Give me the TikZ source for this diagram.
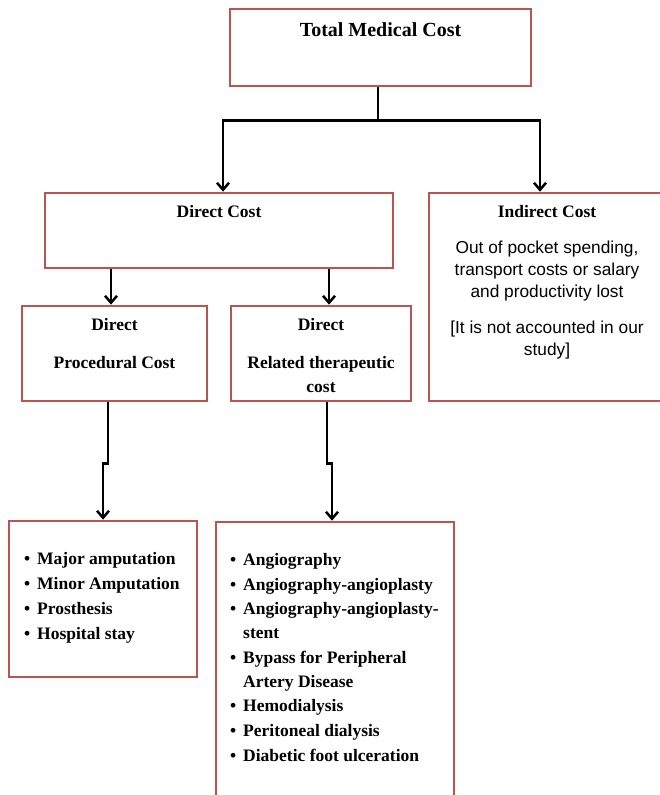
\documentclass[tikz,border=0pt]{standalone}
\usepackage{fontspec}
\setmainfont{Liberation Serif}
\newfontfamily\sansf{Liberation Sans}
\usetikzlibrary{arrows.meta}
\definecolor{boxred}{RGB}{184,84,82}
\tikzset{
  box/.style={draw=boxred, line width=2.6pt, fill=white, rectangle, inner sep=0pt},
  arr/.style={draw=black, line width=2.8pt, -{Straight Barb[length=7pt,width=12pt,line width=2.5pt]}},
  plain/.style={draw=black, line width=2.8pt},
  lbl/.style={anchor=base, inner sep=0pt, font=\fontsize{17.5}{21}\selectfont\bfseries},
  big/.style={anchor=base, inner sep=0pt, font=\fontsize{20}{24}\selectfont\bfseries},
  stxt/.style={anchor=base, inner sep=0pt, font=\fontsize{17.3}{21}\selectfont\sansf},
  item/.style={anchor=base west, inner sep=0pt, font=\fontsize{17.5}{21}\selectfont\bfseries}
}
\newcommand{\bul}{\llap{\textbullet\hspace{7pt}}}
\begin{document}
\begin{tikzpicture}[x=1pt,y=-1pt]
\useasboundingbox[fill=white] (0,0) rectangle (659,795);
% boxes
\node[box, minimum width=301pt, minimum height=77pt] (top) at (380.5,47.5) {};
\node[box, minimum width=348pt, minimum height=75pt] (direct) at (219,230.5) {};
\node[box, minimum width=236pt, minimum height=208pt] (indirect) at (547,297) {};
\node[box, minimum width=185pt, minimum height=95pt] (proc) at (114.5,353.5) {};
\node[box, minimum width=180pt, minimum height=95pt] (ther) at (321,353.5) {};
\node[box, minimum width=188pt, minimum height=156pt] (list1) at (103,599) {};
\node[box, minimum width=238pt, minimum height=282pt] (list2) at (335,663) {};
% texts
\node[big] (t1) at (380.5,36) {Total Medical Cost};
\node[lbl] (t2) at (219,217) {Direct Cost};
\node[lbl] (t3) at (547,217) {Indirect Cost};
\node[stxt] (t4) at (547,253) {Out of pocket spending,};
\node[stxt] (t5) at (547,275) {transport costs or salary};
\node[stxt] (t6) at (547,297) {and productivity lost};
\node[stxt] (t7) at (547,333) {[It is not accounted in our};
\node[stxt] (t8) at (547,355) {study]};
\node[lbl] (t9) at (114.5,330) {Direct};
\node[lbl] (t10) at (114.5,368) {Procedural Cost};
\node[lbl] (t11) at (321,330) {Direct};
\node[lbl] (t12) at (321,368) {Related therapeutic};
\node[lbl] (t13) at (321,392) {cost};
% left list
\node[item] (a1) at (37,564) {\bul Major amputation};
\node[item] (a2) at (37,589) {\bul Minor Amputation};
\node[item] (a3) at (37,614) {\bul Prosthesis};
\node[item] (a4) at (37,639) {\bul Hospital stay};
% right list
\node[item] (b1) at (243,565) {\bul Angiography};
\node[item] (b2) at (243,590) {\bul Angiography-angioplasty};
\node[item] (b3) at (243,614) {\bul Angiography-angioplasty-};
\node[item] (b4) at (243,638) {stent};
\node[item] (b5) at (243,663) {\bul Bypass for Peripheral};
\node[item] (b6) at (243,687) {Artery Disease};
\node[item] (b7) at (243,711) {\bul Hemodialysis};
\node[item] (b8) at (243,736) {\bul Peritoneal dialysis};
\node[item] (b9) at (243,761) {\bul Diabetic foot ulceration};
% connectors
\draw[plain] ([xshift=-2.5pt]top.south) -- ++(0,33) coordinate (j);
\draw[arr] (j) -| ([xshift=4pt]direct.north);
\draw[arr] (j) -| ([xshift=-7pt]indirect.north);
\draw[arr] ([xshift=-3.5pt]proc.north |- direct.south) -- ([xshift=-3.5pt]proc.north);
\draw[arr] ([xshift=8pt]ther.north |- direct.south) -- ([xshift=8pt]ther.north);
\draw[arr] ([xshift=-6.5pt]proc.south) -- ++(0,61) -| (list1.north);
\draw[arr] ([xshift=6pt]ther.south) -- ++(0,61) -| ([xshift=-3pt]list2.north);
\end{tikzpicture}
\end{document}
